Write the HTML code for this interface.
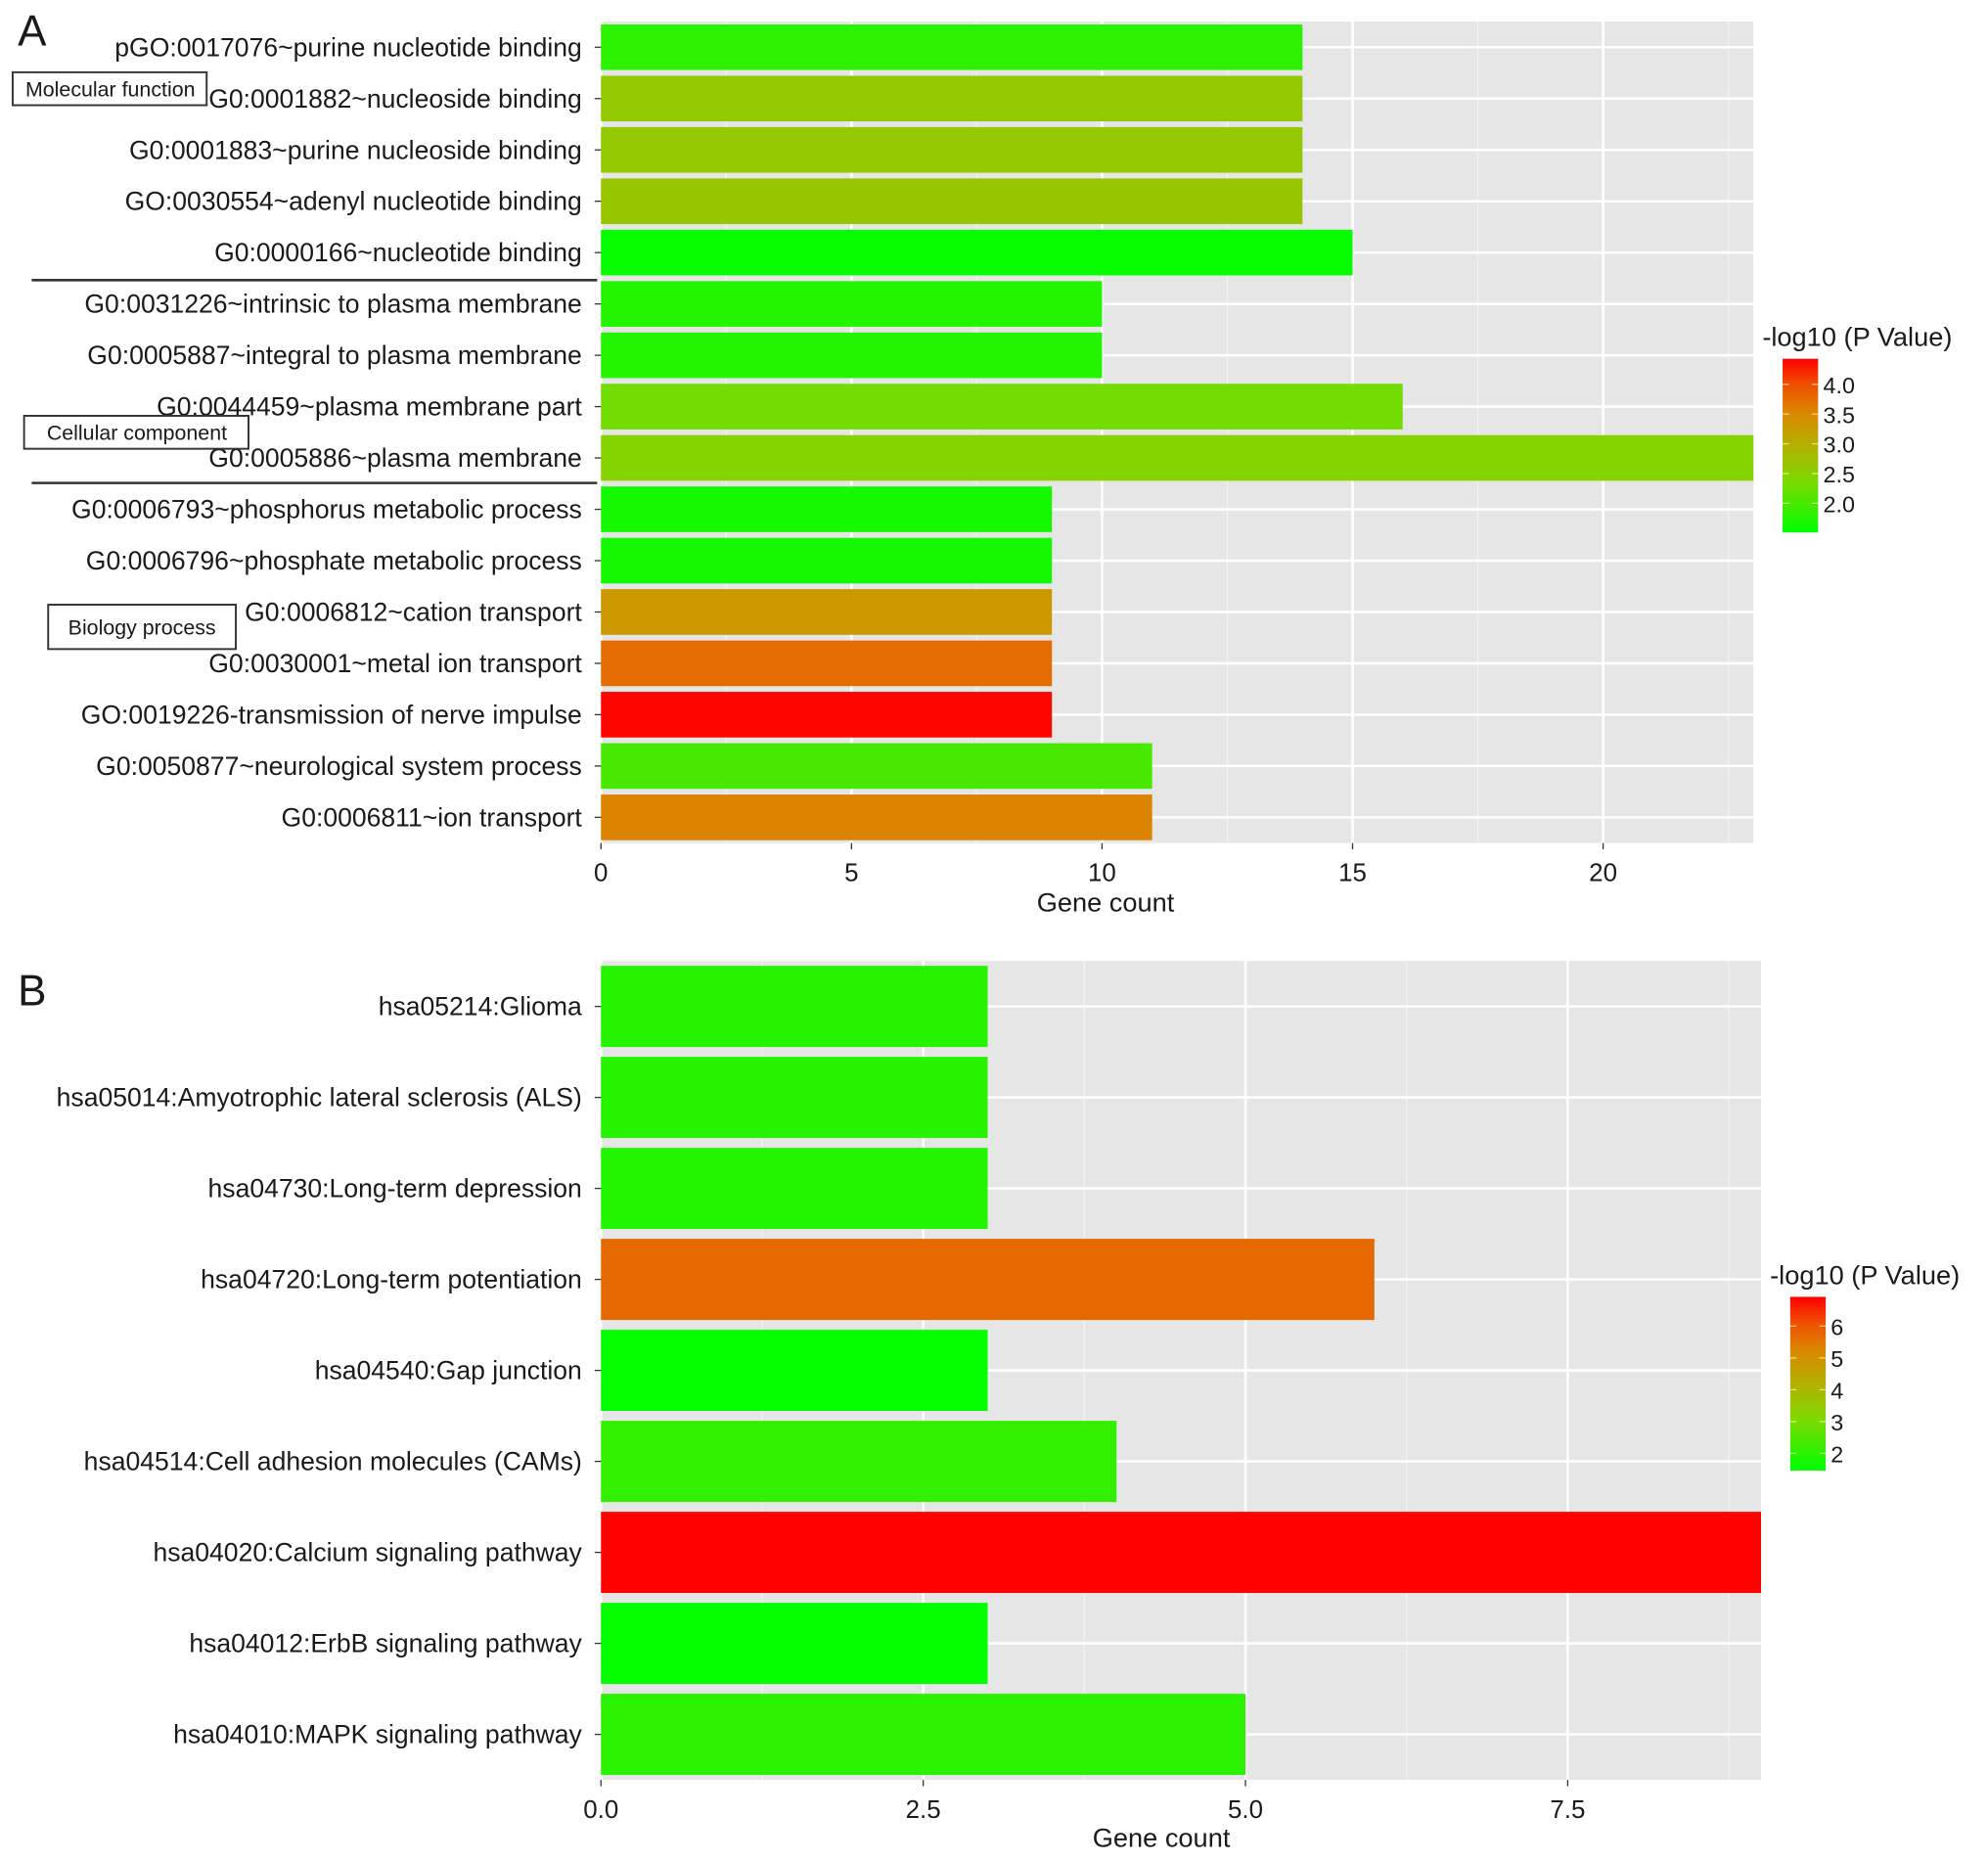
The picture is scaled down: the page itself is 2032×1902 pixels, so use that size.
<!DOCTYPE html>
<html><head><meta charset="utf-8"><style>
html,body{margin:0;padding:0;background:#fff;}
svg{display:block;}
text{font-family:"Liberation Sans",sans-serif;fill:#1a1a1a;}
</style></head><body>
<svg id="fig" width="2032" height="1902" viewBox="0 0 1568 1468" preserveAspectRatio="none" xmlns="http://www.w3.org/2000/svg">
<defs>
<linearGradient id="gradA" x1="0" y1="1" x2="0" y2="0">
<stop offset="0" stop-color="#00ff00"/><stop offset="0.3" stop-color="#7fd800"/><stop offset="0.5" stop-color="#b3b000"/><stop offset="0.68" stop-color="#d98a00"/><stop offset="0.85" stop-color="#f05000"/><stop offset="1" stop-color="#ff0000"/>
</linearGradient>
</defs>
<g id="panelA"></g>
<g id="panelB"></g>
</svg>
<script>
const catsA=["pGO:0017076~purine nucleotide binding","G0:0001882~nucleoside binding","G0:0001883~purine nucleoside binding","GO:0030554~adenyl nucleotide binding","G0:0000166~nucleotide binding","G0:0031226~intrinsic to plasma membrane","G0:0005887~integral to plasma membrane","G0:0044459~plasma membrane part","G0:0005886~plasma membrane","G0:0006793~phosphorus metabolic process","G0:0006796~phosphate metabolic process","G0:0006812~cation transport","G0:0030001~metal ion transport ","GO:0019226-transmission of nerve impulse ","G0:0050877~neurological system process","G0:0006811~ion transport"];
const countsA=[14,14,14,14,15,10,10,16,23,9,9,9,9,9,11,11];
const pvalsA=[1.8,2.6,2.6,2.65,1.55,1.75,1.75,2.3,2.45,1.65,1.65,3.3,3.75,4.4,2.0,3.55];
const ticksA=[0,5,10,15,20];
const legTicksA=[2.0,2.5,3.0,3.5,4.0];
const catsB=["hsa05214:Glioma","hsa05014:Amyotrophic lateral sclerosis (ALS)","hsa04730:Long-term depression","hsa04720:Long-term potentiation","hsa04540:Gap junction","hsa04514:Cell adhesion molecules (CAMs)","hsa04020:Calcium signaling pathway","hsa04012:ErbB signaling pathway","hsa04010:MAPK signaling pathway"];
const countsB=[3,3,3,6,3,4,9,3,5];
const pvalsB=[1.95,1.95,1.9,5.7,1.5,2.1,6.9,1.5,2.0];
const ticksB=[0,2.5,5.0,7.5];
const tickLabB=["0.0","2.5","5.0","7.5"];
const legTicksB=[2,3,4,5,6];

const NS="http://www.w3.org/2000/svg";
function mk(tag,attrs,parent,txt){const e=document.createElementNS(NS,tag);for(const k in attrs)e.setAttribute(k,attrs[k]);if(txt!==undefined)e.textContent=txt;parent.appendChild(e);return e;}
const stops=[[0,[0,255,0]],[0.3,[127,216,0]],[0.5,[179,176,0]],[0.68,[217,138,0]],[0.85,[240,80,0]],[1,[255,0,0]]];
function col(t){t=Math.max(0,Math.min(1,t));for(let i=1;i<stops.length;i++){if(t<=stops[i][0]){const a=stops[i-1],b=stops[i];const f=(t-a[0])/(b[0]-a[0]);const c=a[1].map((v,j)=>Math.round(v+(b[1][j]-v)*f));return `rgb(${c[0]},${c[1]},${c[2]})`;}}return "rgb(255,0,0)";}

function panel(g,o){
  const {cats,counts,pvals,x0,x1,xmax,top,bot,barH,ticks,tickLab,minor,legTop,legBot,legMin,legMax,legTicks,legX,titleX,titleY}=o;
  const xs=v=>x0+(x1-x0)*v/xmax;
  const band=(bot-top)/cats.length;
  const yc=i=>top+band*(i+0.5);
  const bg=mk('rect',{x:x0,y:top,width:x1-x0,height:bot-top,fill:'#e6e6e6'},g);
  
  
  minor.forEach(v=>{const l=mk('line',{x1:xs(v),x2:xs(v),y1:top,y2:bot,stroke:'#f2f2f2','stroke-width':1},g);});
  ticks.forEach(v=>{const l=mk('line',{x1:xs(v),x2:xs(v),y1:top,y2:bot,stroke:'#fff','stroke-width':2},g);});
  cats.forEach((c,i)=>{const l=mk('line',{x1:x0,x2:x1,y1:yc(i),y2:yc(i),stroke:'#fff','stroke-width':2},g);});
  cats.forEach((c,i)=>{
    const t=(pvals[i]-legMin)/(legMax-legMin);
    const r=mk('rect',{x:x0,y:yc(i)-barH/2,width:xs(counts[i])-x0,height:barH,fill:col(t)},g);
    
    
    const tk=mk('line',{x1:x0-5,x2:x0,y1:yc(i),y2:yc(i),stroke:'#333','stroke-width':1},g);
    
    
    const lb=mk('text',{x:x0-15,y:yc(i)+7,'text-anchor':'end','font-size':20.5},g,c);
    
    
  });
  ticks.forEach((v,i)=>{
    const tk=mk('line',{x1:xs(v),x2:xs(v),y1:bot,y2:bot+5,stroke:'#333','stroke-width':1},g);
    
    
    const lb=mk('text',{x:xs(v),y:bot+30,'text-anchor':'middle','font-size':20},g,tickLab?tickLab[i]:String(v));
    
    
  });
  const xt=mk('text',{x:titleX,y:titleY,'text-anchor':'middle','font-size':21},g,'Gene count');
  
  
  const lt=mk('text',{x:legX-16,y:legTop-10,'font-size':21},g,'-log10 (P Value)');
  
  
  const lr=mk('rect',{x:legX,y:legTop,width:28,height:legBot-legTop,fill:'url(#gradA)'},g);
  
  
  const ly=v=>legBot-(legBot-legTop)*(v-legMin)/(legMax-legMin);
  legTicks.forEach(v=>{
    mk('line',{x1:legX,x2:legX+5,y1:ly(v),y2:ly(v),stroke:'#fff','stroke-width':1,opacity:0.6},g);
    mk('line',{x1:legX+23,x2:legX+28,y1:ly(v),y2:ly(v),stroke:'#fff','stroke-width':1,opacity:0.6},g);
    const lb=mk('text',{x:legX+32,y:ly(v)+7,'font-size':18},g,legMax>5?String(v):v.toFixed(1));
    
    
  });
}
const A=document.getElementById('panelA'),B=document.getElementById('panelB');
panel(A,{cats:catsA,counts:countsA,pvals:pvalsA,x0:474,x1:1383,xmax:23,top:17,bot:665,barH:36,ticks:ticksA,minor:[2.5,7.5,12.5,17.5,22.5],legTop:283,legBot:420,legMin:1.51,legMax:4.43,legTicks:legTicksA,legX:1406,titleX:872,titleY:719});
panel(B,{cats:catsB,counts:countsB,pvals:pvalsB,x0:474,x1:1389,xmax:9,top:758,bot:1404,barH:64,ticks:ticksB,tickLab:tickLabB,minor:[1.25,3.75,6.25,8.75],legTop:1023,legBot:1160,legMin:1.46,legMax:6.92,legTicks:legTicksB,legX:1412,titleX:916,titleY:1457});
const svg=document.getElementById('fig');
let e=mk('text',{x:14,y:36,'font-size':34},svg,'A');
e=mk('text',{x:14,y:793,'font-size':34},svg,'B');
[[25,221],[25,381]].forEach(p=>{const l=mk('line',{x1:p[0],x2:471,y1:p[1],y2:p[1],stroke:'#333','stroke-width':2},svg);});
[["Molecular function",10,57,153,26,87],["Cellular component",19,328,177,26,108],["Biology process",38,477,148,35,112]].forEach(a=>{
  const gg=mk('g',{},svg);
  mk('rect',{x:a[1],y:a[2],width:a[3],height:a[4],fill:'#fff',stroke:'#333','stroke-width':1.5},gg);
  mk('text',{x:a[5],y:a[2]+a[4]/2+6,'text-anchor':'middle','font-size':16.5},gg,a[0]);
});
</script>
</body></html>
